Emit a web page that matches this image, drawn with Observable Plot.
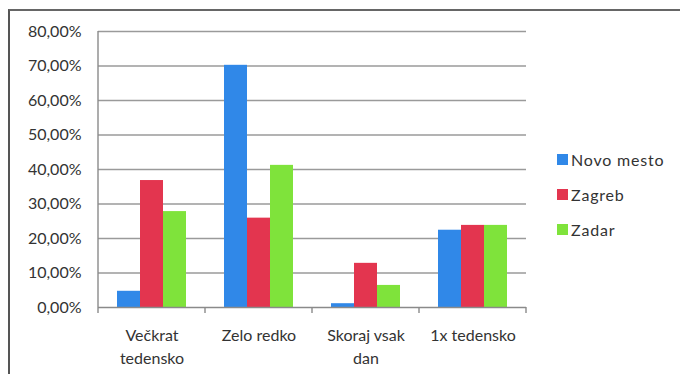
<!DOCTYPE html>
<html>
<head>
<meta charset="utf-8">
<script src="https://cdn.jsdelivr.net/npm/d3@7"></script>
<script src="https://cdn.jsdelivr.net/npm/@observablehq/plot@0.6"></script>
<style>
  html, body { margin: 0; padding: 0; background: #fff; width: 680px; height: 374px; overflow: hidden; }
  #wrap { position: relative; width: 680px; height: 374px; }
  #border { position: absolute; left: 8px; top: 9px; width: 680px; height: 400px;
            border-left: 2px solid #555; border-top: 2px solid #666; box-sizing: border-box; }
  #chart { position: absolute; left: 0; top: 0; }
  #legend { position: absolute; left: 557px; top: 142px; font-family: Lato, "Open Sans", sans-serif;
            font-size: 16px; color: #333; letter-spacing: 0.8px; }
  .item { display: flex; align-items: center; height: 35px; }
  .sw { width: 11px; height: 11px; margin-right: 3px; }
</style>
</head>
<body>
<div id="wrap">
  <div id="border"></div>
  <div id="chart"></div>
  <div id="legend"></div>
</div>
<script>
const categories = ["Večkrat tedensko", "Zelo redko", "Skoraj vsak dan", "1x tedensko"];
const categoryLabels = ["Večkrat\ntedensko", "Zelo redko", "Skoraj vsak\ndan", "1x tedensko"];
const cities = ["Novo mesto", "Zagreb", "Zadar"];
const novoMesto = [4.7, 70.2, 1.1, 22.4];
const zagreb = [36.8, 25.9, 12.8, 23.8];
const zadar = [27.8, 41.2, 6.4, 23.8];
const yTicks = [0, 10, 20, 30, 40, 50, 60, 70, 80];
const colors = ["#3088e8", "#e3354f", "#7fe33b"];

const series = [novoMesto, zagreb, zadar];
const data = [];
categories.forEach((c, i) => cities.forEach((city, j) => data.push({category: c, city, value: series[j][i]})));

const fmt = d => d.toFixed(2).replace(".", ",") + "%";

const plot = Plot.plot({
  width: 680,
  height: 374,
  marginLeft: 97,
  marginRight: 153,
  marginTop: 31,
  marginBottom: 67,
  style: {fontFamily: "Lato, 'Open Sans', sans-serif", fontSize: "16px", color: "#333", background: "transparent"},
  fx: {domain: categories, padding: 0, label: null, axis: null},
  x: {domain: cities, paddingInner: 0, paddingOuter: 0.73, axis: null},
  y: {domain: [0, 80], axis: null},
  color: {domain: cities, range: colors},
  marks: [
    Plot.ruleY(yTicks.filter(t => t > 0), {stroke: "#9a9a9a", strokeWidth: 1.4}),
    Plot.barY(data, {fx: "category", x: "city", y: "value", fill: "city"}),
    Plot.ruleY([0], {stroke: "#8a8a8a", strokeWidth: 1.4}),
    Plot.axisY({ticks: yTicks, tickSize: 0, tickPadding: 17, tickFormat: fmt, label: null,
                fontSize: 16, letterSpacing: 1}),
    Plot.axisFx({anchor: "bottom", label: null, tickSize: 0, tickPadding: 18, lineHeight: 1.4,
                 fontSize: 16, letterSpacing: 0.8,
                 tickFormat: d => categoryLabels[categories.indexOf(d)]})
  ]
});
document.getElementById("chart").appendChild(plot);

// axis line and category boundary ticks via the plot's scales
const svg = d3.select(plot);
let fx = null, y = null;
try { fx = plot.scale("fx"); y = plot.scale("y"); } catch (e) {}
const y0 = y ? y.apply(0) : 307;
const yTop = y ? y.apply(80) : 31;
let bounds;
if (fx && fx.apply) {
  bounds = categories.map(c => fx.apply(c));
  bounds.push(fx.apply(categories[categories.length - 1]) + fx.bandwidth);
} else {
  const step = (680 - 97 - 153) / categories.length;
  bounds = d3.range(categories.length + 1).map(i => 97 + i * step);
}
const g = svg.append("g").attr("stroke", "#8a8a8a").attr("stroke-width", 1.4);
g.append("line").attr("x1", bounds[0]).attr("x2", bounds[0]).attr("y1", yTop).attr("y2", y0);
bounds.forEach(b => g.append("line").attr("x1", b).attr("x2", b).attr("y1", y0).attr("y2", y0 + 6));

// legend
const legend = d3.select("#legend");
cities.forEach((c, i) => {
  const it = legend.append("div").attr("class", "item");
  it.append("div").attr("class", "sw").style("background", colors[i]);
  it.append("span").text(c);
});
</script>
</body>
</html>
